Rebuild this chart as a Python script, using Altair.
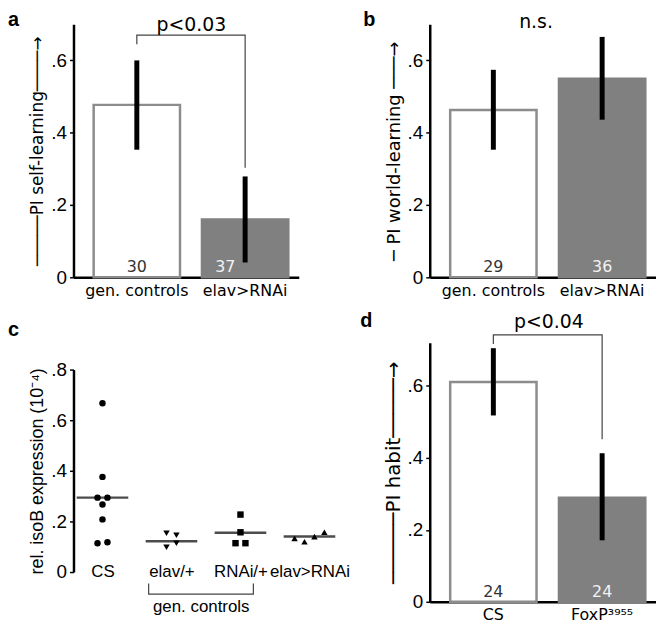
import altair as alt
import pandas as pd

NUM_FONT = "Liberation Sans"
LBL_FONT = "DejaVu Sans"
GRAY = "#808080"
OUTLINE = "#8c8c8c"

# ---------------- panel a ----------------
a_groups = ["gen. controls", "elav>RNAi"]
a_means = [0.477, 0.160]
a_err_lo = [0.353, 0.041]
a_err_hi = [0.600, 0.279]
a_n = ["30", "37"]
a_p = "p<0.03"
a_p_y = 0.681
a_bracket = [0.645, 0.670, 0.303]  # left leg end, top, right leg end

# ---------------- panel b ----------------
b_groups = ["gen. controls", "elav>RNAi"]
b_means = [0.463, 0.549]
b_err_lo = [0.353, 0.436]
b_err_hi = [0.574, 0.665]
b_n = ["29", "36"]
b_p = "n.s."
b_p_y = 0.69

# ---------------- panel c ----------------
c_groups = ["CS", "elav/+", "RNAi/+", "elav>RNAi"]
c_cs = [0.667, 0.376, 0.294, 0.294, 0.267, 0.208, 0.114, 0.118]
c_elav = [0.153, 0.145, 0.098, 0.114]
c_rnai = [0.227, 0.157, 0.114, 0.114]
c_elavrnai = [0.133, 0.120, 0.140, 0.157]
c_medians = [0.294, 0.122, 0.155, 0.140]
c_shapes = ["circle", "triangle-down", "square", "triangle-up"]

# ---------------- panel d ----------------
d_groups = ["CS", "FoxP³⁹⁵⁵"]
d_means = [0.611, 0.289]
d_err_lo = [0.518, 0.171]
d_err_hi = [0.705, 0.413]
d_n = ["24", "24"]
d_p = "p<0.04"
d_p_y = 0.76
d_bracket = [0.717, 0.742, 0.452]

LABEL_EXPR = "datum.value == 0 ? '0' : substring(format(datum.value, '.1f'), 1)"


def y_axis(title, values, tfont=NUM_FONT, tsize=19):
    return alt.Axis(
        title=title, values=values, labelExpr=LABEL_EXPR, grid=False,
        domainColor="black", domainWidth=2.5, tickColor="black", tickWidth=1.5,
        tickSize=4, labelFont=NUM_FONT, labelFontSize=19, labelColor="black",
        labelPadding=3, titleFont=tfont, titleFontSize=tsize,
        titleFontWeight="normal", titleColor="black", titlePadding=4,
    )


def letter_layer(letter, dx, dy):
    return alt.Chart(pd.DataFrame({"t": [letter]})).mark_text(
        align="left", baseline="alphabetic", font=NUM_FONT, fontSize=20,
        fontWeight="bold", color="black",
    ).encode(x=alt.value(dx), y=alt.value(dy), text="t:N")


def bar_panel(groups, means, lo, hi, ns, ymax, ytitle, tsize, letter, ptext, p_y,
              p_dx, bracket, shift_second, width, height, ldx, ldy):
    df = pd.DataFrame({"group": groups, "mean": means, "lo": lo, "hi": hi,
                       "n": ns, "base": [0.0] * len(groups)})
    xenc = alt.X(
        "group:N", sort=groups,
        scale=alt.Scale(type="band", paddingInner=0.2, paddingOuter=0.14, align=0.66),
        axis=alt.Axis(title=None, labelAngle=0, ticks=False, domainColor="black",
                      domainWidth=2.5, labelFont=LBL_FONT, labelFontSize=16,
                      labelColor="black", labelPadding=5),
    )
    yscale = alt.Scale(domain=[0, ymax], nice=False, zero=True)
    yax = y_axis(ytitle, [0, 0.2, 0.4, 0.6], tfont=LBL_FONT, tsize=tsize)
    base = alt.Chart(df)
    first = alt.datum.group == groups[0]
    bars = base.mark_bar(strokeWidth=2.5, width=87).encode(
        x=xenc,
        y=alt.Y("mean:Q", scale=yscale, axis=yax),
        fill=alt.condition(first, alt.value("white"), alt.value(GRAY)),
        stroke=alt.condition(first, alt.value(OUTLINE), alt.value(GRAY)),
    )
    err = base.mark_rule(strokeWidth=5, color="black").encode(
        x=xenc, y=alt.Y("lo:Q", scale=yscale, axis=yax), y2="hi:Q")
    txt_kw = dict(baseline="alphabetic", dy=-5, font=LBL_FONT, fontSize=16)
    n1 = base.transform_filter(first).mark_text(color="#333333", **txt_kw).encode(
        x=xenc, y=alt.Y("base:Q", scale=yscale, axis=yax), text="n:N")
    n2 = base.transform_filter(~first).mark_text(
        color="#f2f2f2", dx=shift_second, **txt_kw).encode(
        x=xenc, y=alt.Y("base:Q", scale=yscale, axis=yax), text="n:N")
    layers = [bars, n1, n2, err]
    if bracket is not None:
        bdf = pd.DataFrame({"group": [groups[0], groups[0], groups[1], groups[1]],
                            "y": [bracket[0], bracket[1], bracket[1], bracket[2]],
                            "o": [0, 1, 2, 3]})
        br = alt.Chart(bdf).mark_line(color="#444444", strokeWidth=1.2).encode(
            x=xenc, y=alt.Y("y:Q", scale=yscale, axis=yax), order="o:Q")
        layers.append(br)
    pdf = pd.DataFrame({"group": [groups[0]], "y": [p_y], "t": [ptext]})
    pt = alt.Chart(pdf).mark_text(baseline="alphabetic", align="center", dx=p_dx,
                                  font=LBL_FONT, fontSize=19, color="black").encode(
        x=xenc, y=alt.Y("y:Q", scale=yscale, axis=yax), text="t:N")
    layers.append(pt)
    layers.append(letter_layer(letter, ldx, ldy))
    return alt.layer(*layers).properties(width=width, height=height)


pa = bar_panel(a_groups, a_means, a_err_lo, a_err_hi, a_n, 0.7,
               "─────PI self-learning────→", 17, "a", a_p, a_p_y, 55, a_bracket, -20,
               227, 255, -66, 2)
pb = bar_panel(b_groups, b_means, b_err_lo, b_err_hi, b_n, 0.7,
               "─ PI world-learning ───→", 18, "b", b_p, b_p_y, 43, None, 0,
               228, 255, -67, 2)
pd_ = bar_panel(d_groups, d_means, d_err_lo, d_err_hi, d_n, 0.72,
                "──────PI habit─────→", 20, "d", d_p, d_p_y, 56, d_bracket, 0,
                228, 261, -70, -16)


# ---------------- panel c construction ----------------
def swarm_offsets(values, thr=0.021):
    clusters, cur = [], [0]
    for i in range(1, len(values)):
        if abs(values[i] - values[i - 1]) <= thr:
            cur.append(i)
        else:
            clusters.append(cur)
            cur = [i]
    clusters.append(cur)
    offs = [0.0] * len(values)
    for cl in clusters:
        k = len(cl)
        for j, idx in enumerate(cl):
            offs[idx] = j - (k - 1) / 2
    return offs


rows = []
for g, vals in zip(c_groups, [c_cs, c_elav, c_rnai, c_elavrnai]):
    for v, o in zip(vals, swarm_offsets(vals)):
        rows.append({"group": g, "value": v, "off": o})
c_df = pd.DataFrame(rows)
c_med = pd.DataFrame({"group": c_groups, "median": c_medians})

xc = alt.X("group:N", sort=c_groups,
           scale=alt.Scale(type="point", padding=0.42),
           axis=alt.Axis(title=None, labelAngle=0, domain=False, ticks=False,
                         tickSize=0, offset=-30, labelBaseline="middle",
                         labelPadding=0, labelFont=NUM_FONT, labelFontSize=17,
                         labelColor="black"))
xoff = alt.XOffset("off:Q", scale=alt.Scale(domain=[-1, 1], range=[-10, 10]))
ycs = alt.Scale(domain=[0, 0.8], range=[231, 27], nice=False)
ycax = y_axis("rel. isoB expression (10⁻⁴)", [0, 0.2, 0.4, 0.6, 0.8], tsize=18)

c_pts = alt.Chart(c_df).mark_point(filled=True, size=42, opacity=1, color="black").encode(
    x=xc, xOffset=xoff,
    y=alt.Y("value:Q", scale=ycs, axis=ycax),
    shape=alt.Shape("group:N", scale=alt.Scale(domain=c_groups, range=c_shapes), legend=None),
)
c_ticks = alt.Chart(c_med).mark_tick(size=52, thickness=2.5, color="black").encode(
    x=xc, y=alt.Y("median:Q", scale=ycs, axis=ycax))
c_br_df = pd.DataFrame({"group": ["elav/+", "elav/+", "RNAi/+", "RNAi/+"],
                        "y": [-0.045, -0.087, -0.087, -0.045],
                        "off": [-2.3, -2.3, 1.3, 1.3], "o": [0, 1, 2, 3]})
c_br = alt.Chart(c_br_df).mark_line(color="#444444", strokeWidth=1.2).encode(
    x=xc, xOffset=xoff, y=alt.Y("y:Q", scale=ycs, axis=ycax), order="o:Q")
c_txt_df = pd.DataFrame({"group": ["elav/+"], "y": [-0.14], "t": ["gen. controls"]})
c_txt = alt.Chart(c_txt_df).mark_text(baseline="middle", dx=30, font=NUM_FONT,
                                      fontSize=17, color="black").encode(
    x=xc, y=alt.Y("y:Q", scale=ycs, axis=ycax), text="t:N")
pc = alt.layer(c_ticks, c_pts, c_br, c_txt, letter_layer("c", -66, -7)).properties(
    width=267, height=261)

chart = alt.concat(pa, pb, pc, pd_, columns=2, spacing={"row": 66, "column": 92},
                   bounds="flush").properties(
    padding={"left": 0, "top": 0, "right": 0, "bottom": 0}
).configure_view(stroke=None)

chart.save("out.html", embed_options={"renderer": "svg", "actions": False})
